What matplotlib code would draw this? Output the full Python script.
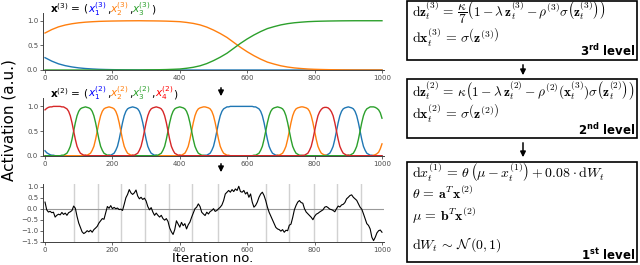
import numpy as np
import matplotlib.pyplot as plt
from matplotlib.patches import Rectangle, FancyArrowPatch

# ---- data ----
iters_top = np.arange(0, 1001, 20)   # level 3 sampled every 20 iterations
iters = np.arange(0, 1001, 5)        # level 2 / level 1 sampled every 5 iterations

x3_1 = [0.25, 0.18, 0.125, 0.088, 0.062, 0.043, 0.03, 0.021, 0.014, 0.01,
        0.007, 0.005, 0.003, 0.002, 0.001, 0, 0, 0, 0, 0,
        0, 0, 0, 0, 0, 0, 0, 0, 0, 0,
        0, 0, 0, 0, 0, 0, 0, 0, 0, 0,
        0, 0, 0, 0, 0, 0, 0, 0, 0, 0, 0]
x3_2 = [0.75, 0.82, 0.875, 0.912, 0.938, 0.957, 0.97, 0.979, 0.986, 0.99,
        0.993, 0.995, 0.997, 0.998, 0.999, 0.997, 0.996, 0.994, 0.991, 0.986,
        0.98, 0.965, 0.945, 0.915, 0.87, 0.81, 0.74, 0.66, 0.56, 0.46,
        0.37, 0.29, 0.22, 0.16, 0.12, 0.085, 0.06, 0.042, 0.03, 0.02,
        0.014, 0.01, 0.007, 0.005, 0.003, 0.002, 0.001, 0.001, 0.001, 0.001, 0.001]
x3_3 = [0, 0, 0, 0, 0, 0, 0, 0, 0, 0,
        0, 0, 0, 0, 0, 0.003, 0.004, 0.006, 0.009, 0.014,
        0.02, 0.035, 0.055, 0.085, 0.13, 0.19, 0.26, 0.34, 0.44, 0.54,
        0.63, 0.71, 0.78, 0.84, 0.88, 0.915, 0.94, 0.958, 0.97, 0.98,
        0.986, 0.99, 0.993, 0.995, 0.997, 0.998, 0.999, 0.999, 0.999, 0.999, 0.999]

x2_1 = [0.10, 0.06, 0.04, 0.02, 0.01, 0.01, 0, 0, 0, 0, 0, 0, 0, 0, 0, 0, 0, 0, 0, 0,
        0, 0, 0, 0, 0, 0, 0, 0, 0, 0, 0, 0, 0, 0, 0, 0, 0, 0, 0.01, 0.01,
        0.03, 0.05, 0.11, 0.19, 0.33, 0.50, 0.67, 0.81, 0.90, 0.95, 0.97, 0.98, 0.99, 0.98, 0.97, 0.95, 0.90, 0.81, 0.67, 0.50,
        0.33, 0.19, 0.11, 0.05, 0.03, 0.01, 0.01, 0, 0, 0, 0, 0, 0, 0, 0, 0, 0, 0, 0, 0,
        0, 0, 0, 0, 0, 0, 0, 0, 0, 0, 0, 0, 0, 0, 0, 0.01, 0.01, 0.03, 0.05, 0.11,
        0.19, 0.33, 0.50, 0.67, 0.81, 0.90, 0.95, 0.97, 0.99, 0.99, 1.0, 1.0, 1.0, 1.0, 1.0, 1.0, 1.0, 1.0, 1.0, 1.0,
        1.0, 1.0, 1.0, 1.0, 0.99, 0.99, 0.97, 0.95, 0.90, 0.81, 0.67, 0.50, 0.33, 0.19, 0.11, 0.05, 0.03, 0.01, 0.01, 0,
        0, 0, 0, 0, 0, 0, 0, 0, 0, 0, 0, 0, 0, 0, 0, 0, 0, 0, 0, 0,
        0, 0, 0, 0, 0, 0, 0.01, 0.01, 0.03, 0.05, 0.11, 0.19, 0.33, 0.50, 0.67, 0.81, 0.90, 0.95, 0.97, 0.98,
        0.99, 0.98, 0.97, 0.95, 0.90, 0.81, 0.67, 0.50, 0.33, 0.19, 0.11, 0.05, 0.03, 0.01, 0.01, 0, 0, 0, 0, 0,
        0]
x2_2 = [0, 0, 0, 0, 0, 0, 0, 0, 0, 0, 0, 0, 0, 0, 0, 0, 0, 0, 0, 0,
        0, 0, 0, 0, 0.01, 0.01, 0.03, 0.05, 0.11, 0.19, 0.33, 0.50, 0.67, 0.81, 0.90, 0.95, 0.97, 0.98, 0.99, 0.98,
        0.97, 0.95, 0.90, 0.81, 0.67, 0.50, 0.33, 0.19, 0.11, 0.05, 0.03, 0.01, 0.01, 0, 0, 0, 0, 0, 0, 0,
        0, 0, 0, 0, 0, 0, 0, 0, 0, 0, 0, 0, 0, 0, 0, 0, 0, 0, 0, 0,
        0.01, 0.01, 0.03, 0.05, 0.11, 0.19, 0.33, 0.50, 0.67, 0.81, 0.90, 0.95, 0.97, 0.98, 0.99, 0.99, 0.98, 0.97, 0.95, 0.90,
        0.81, 0.67, 0.50, 0.33, 0.19, 0.11, 0.05, 0.03, 0.01, 0.01, 0, 0, 0, 0, 0, 0, 0, 0, 0, 0,
        0, 0, 0, 0, 0, 0, 0, 0, 0, 0, 0, 0, 0, 0, 0, 0, 0, 0, 0.01, 0.01,
        0.03, 0.05, 0.11, 0.19, 0.33, 0.50, 0.67, 0.81, 0.90, 0.95, 0.97, 0.98, 0.99, 0.99, 0.98, 0.97, 0.95, 0.90, 0.81, 0.67,
        0.50, 0.33, 0.19, 0.11, 0.05, 0.03, 0.01, 0.01, 0, 0, 0, 0, 0, 0, 0, 0, 0, 0, 0, 0,
        0, 0, 0, 0, 0, 0, 0, 0, 0, 0, 0, 0, 0, 0, 0, 0.01, 0.02, 0.04, 0.07, 0.14,
        0.24]
x2_3 = [0, 0, 0, 0, 0, 0, 0, 0, 0, 0, 0.01, 0.01, 0.03, 0.05, 0.11, 0.19, 0.33, 0.50, 0.67, 0.81,
        0.90, 0.95, 0.97, 0.98, 0.99, 0.98, 0.97, 0.95, 0.90, 0.81, 0.67, 0.50, 0.33, 0.19, 0.11, 0.05, 0.03, 0.01, 0.01, 0,
        0, 0, 0, 0, 0, 0, 0, 0, 0, 0, 0, 0, 0, 0, 0, 0, 0, 0, 0, 0,
        0, 0, 0, 0, 0, 0, 0.01, 0.01, 0.03, 0.05, 0.11, 0.19, 0.33, 0.50, 0.67, 0.81, 0.90, 0.95, 0.97, 0.98,
        0.99, 0.98, 0.97, 0.95, 0.90, 0.81, 0.67, 0.50, 0.33, 0.19, 0.11, 0.05, 0.03, 0.01, 0.01, 0, 0, 0, 0, 0,
        0, 0, 0, 0, 0, 0, 0, 0, 0, 0, 0, 0, 0, 0, 0, 0, 0, 0, 0, 0,
        0, 0, 0, 0, 0.01, 0.01, 0.03, 0.05, 0.11, 0.19, 0.33, 0.50, 0.67, 0.81, 0.90, 0.95, 0.97, 0.98, 0.99, 0.98,
        0.97, 0.95, 0.90, 0.81, 0.67, 0.50, 0.33, 0.19, 0.11, 0.05, 0.03, 0.01, 0.01, 0, 0, 0, 0, 0, 0, 0,
        0, 0, 0, 0, 0, 0, 0, 0, 0, 0, 0, 0, 0, 0, 0, 0, 0, 0, 0, 0,
        0.01, 0.01, 0.03, 0.05, 0.11, 0.19, 0.33, 0.50, 0.67, 0.81, 0.90, 0.95, 0.97, 0.99, 0.99, 0.99, 0.98, 0.96, 0.93, 0.87,
        0.76]
x2_4 = [0.93, 0.96, 0.98, 0.99, 0.99, 1.0, 1.0, 1.0, 1.0, 1.0, 0.99, 0.99, 0.97, 0.95, 0.90, 0.81, 0.67, 0.50, 0.33, 0.19,
        0.11, 0.05, 0.03, 0.01, 0.01, 0, 0, 0, 0, 0, 0, 0, 0, 0, 0, 0, 0, 0, 0, 0,
        0, 0, 0, 0, 0, 0, 0, 0, 0, 0, 0, 0, 0.01, 0.01, 0.03, 0.05, 0.11, 0.19, 0.33, 0.50,
        0.67, 0.81, 0.90, 0.95, 0.97, 0.98, 0.99, 0.98, 0.97, 0.95, 0.90, 0.81, 0.67, 0.50, 0.33, 0.19, 0.11, 0.05, 0.03, 0.01,
        0.01, 0, 0, 0, 0, 0, 0, 0, 0, 0, 0, 0, 0, 0, 0, 0, 0, 0, 0, 0,
        0, 0, 0, 0, 0, 0, 0, 0, 0, 0, 0, 0, 0, 0, 0, 0, 0, 0, 0, 0,
        0, 0, 0, 0, 0, 0, 0, 0, 0, 0, 0, 0, 0, 0, 0, 0, 0, 0, 0, 0,
        0, 0, 0, 0, 0, 0, 0, 0, 0, 0, 0, 0, 0, 0.01, 0.01, 0.03, 0.05, 0.11, 0.19, 0.33,
        0.50, 0.67, 0.81, 0.89, 0.94, 0.97, 0.98, 0.98, 0.97, 0.94, 0.89, 0.81, 0.67, 0.50, 0.33, 0.19, 0.11, 0.05, 0.03, 0.01,
        0.01, 0, 0, 0, 0, 0, 0, 0, 0, 0, 0, 0, 0, 0, 0, 0, 0, 0, 0, 0,
        0]

x1 = [0.30, -0.05, -0.15, -0.12, -0.18, -0.16, -0.38, -0.30, -0.25, -0.28, -0.17, -0.26, -0.20, -0.30, -0.18, -0.14, -0.08, 0.12, 0.02, -0.35,
      -0.65, -0.85, -1.05, -1.13, -1.08, -1.00, -1.05, -0.98, -1.07, -0.95, -0.88, -0.80, -0.65, -0.55, -0.45, -0.48, -0.18, 0.10, 0.02, 0.14,
      0.00, 0.06, 0.00, 0.03, -0.04, -0.02, -0.08, 0.20, 0.50, 0.65, 0.87, 0.72, 0.65, 0.72, 0.85, 0.58, 0.45, 0.52, 0.42, 0.48,
      0.35, 0.10, -0.05, 0.05, -0.15, -0.30, -0.20, -0.30, -0.38, -0.30, -0.45, -0.52, -0.45, -0.58, -0.88, -1.05, -1.17, -0.95, -0.55, -0.70,
      -0.84, -0.62, -0.77, -0.68, -0.92, -0.73, -0.61, -0.39, -0.20, 0.00, 0.07, 0.22, 0.10, -0.16, -0.24, -0.31, -0.16, -0.24, -0.13, -0.08,
      0.00, -0.12, -0.08, 0.00, 0.07, 0.17, 0.37, 0.67, 0.75, 0.83, 0.75, 0.87, 0.78, 0.90, 0.83, 1.02, 0.78, 0.75, 0.83, 0.67,
      0.75, 0.52, 0.67, 0.30, 0.07, 0.15, 0.30, 0.52, 0.67, 0.75, 0.60, 0.37, 0.07, -0.16, -0.33, -0.50, -0.68, -0.85, -0.92, -0.95,
      -1.02, -0.95, -1.07, -0.98, -1.00, -0.75, -0.70, -0.40, -0.05, 0.15, 0.30, 0.37, 0.28, 0.25, 0.00, -0.15, -0.23, -0.31, -0.39, -0.50,
      -0.35, -0.25, -0.21, -0.15, -0.10, -0.05, 0.07, 0.10, 0.05, -0.02, -0.04, -0.08, -0.14, 0.00, 0.12, 0.08, 0.17, 0.20, 0.28, 0.45,
      0.52, 0.60, 0.63, 0.52, 0.45, 0.38, 0.22, 0.07, -0.02, -0.23, -0.46, -0.68, -0.76, -0.92, -1.30, -1.45, -1.30, -1.10, -1.00, -0.97,
      -1.07]

# iterations where the level-2 winner changes (grey lines in the bottom panel)
switches = [86, 156, 226, 297, 367, 437, 512, 656, 724, 798, 866, 937]

line_colors = ['#1f77b4', '#ff7f0e', '#2ca02c', '#d62728']
title_colors = ['#0000ff', '#ff7f0e', '#2ca02c', '#ff0000']

W, H = 640, 265


def fx(x):
    return x / W


def fy(y):
    return 1 - y / H


def style_axis(ax):
    for side in ['top', 'right']:
        ax.spines[side].set_visible(False)
    for side in ['left', 'bottom']:
        ax.spines[side].set_linewidth(0.7)
        ax.spines[side].set_color('0.25')
    ax.tick_params(length=2, width=0.6, labelsize=5, colors='0.3', pad=1.5)
    ax.set_xlim(-6, 1006)
    ax.set_xticks([0, 200, 400, 600, 800, 1000])


def colored_title(fig, x, y, pieces, size):
    renderer = fig.canvas.get_renderer()
    for s, c in pieces:
        t = fig.text(x, y, s, color=c, fontsize=size, va='baseline', ha='left')
        x += t.get_window_extent(renderer).width / fig.bbox.width


fig = plt.figure(figsize=(6.4, 2.65), dpi=100)

ax_w = 341 / W
ax3 = fig.add_axes([fx(43), fy(70), ax_w, 57.3 / H])
ax2 = fig.add_axes([fx(43), fy(155.7), ax_w, 57.4 / H])
ax1 = fig.add_axes([fx(43), fy(241.7), ax_w, 57.4 / H])

# level 3
for vals, c in zip([x3_1, x3_2, x3_3], line_colors):
    ax3.plot(iters_top, vals, color=c, lw=1.0)
ax3.set_ylim(0, 1.162)
ax3.set_yticks([0, 0.5, 1.0])
style_axis(ax3)

# level 2
for vals, c in zip([x2_1, x2_2, x2_3, x2_4], line_colors):
    ax2.plot(iters, vals, color=c, lw=1.0)
ax2.set_ylim(0, 1.164)
ax2.set_yticks([0, 0.5, 1.0])
style_axis(ax2)

# level 1
for s in switches:
    ax1.axvline(s, color='0.82', lw=1.0, zorder=1)
ax1.axhline(0, color='0.6', lw=0.8, zorder=1)
ax1.plot(iters, x1, color='black', lw=0.8, zorder=3)
ax1.set_ylim(-1.5, 1.11)
ax1.set_yticks([-1.5, -1.0, -0.5, 0.0, 0.5, 1.0])
style_axis(ax1)

# panel titles with coloured components
colored_title(fig, fx(50), fy(12.5),
              [(r'$\mathbf{x}^{(3)}$ = (', 'black'),
               (r'$x_1^{(3)}$', title_colors[0]), (',', 'black'),
               (r'$x_2^{(3)}$', title_colors[1]), (',', 'black'),
               (r'$x_3^{(3)}$', title_colors[2]), (')', 'black')], 7.6)
colored_title(fig, fx(50), fy(97.5),
              [(r'$\mathbf{x}^{(2)}$ = (', 'black'),
               (r'$x_1^{(2)}$', title_colors[0]), (',', 'black'),
               (r'$x_2^{(2)}$', title_colors[1]), (',', 'black'),
               (r'$x_3^{(2)}$', title_colors[2]), (',', 'black'),
               (r'$x_4^{(2)}$', title_colors[3]), (')', 'black')], 7.6)

fig.text(fx(9), fy(120), 'Activation (a.u.)', rotation=90, ha='center', va='center', fontsize=11)
fig.text(fx(213), fy(262), 'Iteration no.', ha='center', va='baseline', fontsize=9.5)


def down_arrow(x, y0, y1):
    fig.add_artist(FancyArrowPatch((fx(x), fy(y0)), (fx(x), fy(y1)), transform=fig.transFigure,
                                   arrowstyle='-|>', mutation_scale=8, lw=1.1, color='black'))


down_arrow(221, 85, 99)
down_arrow(221, 161, 175)
down_arrow(523, 62, 78)
down_arrow(523, 140, 160)

# equation boxes
boxes = [(1.5, 60), (79, 138), (162, 261.5)]
for top, bot in boxes:
    fig.add_artist(Rectangle((fx(407), fy(bot)), (637 - 407) / W, (bot - top) / H,
                             transform=fig.transFigure, fill=False, lw=1.2, ec='black'))

eq_lines = [
    (17, 9.6, r'$\mathrm{d}\mathbf{z}_t^{(3)} \,=\, \dfrac{\kappa}{7}\left(\mathbf{1} - \lambda\,\mathbf{z}_t^{(3)} - \rho^{(3)}\sigma\left(\mathbf{z}_t^{(3)}\right)\right)$'),
    (43.5, 10, r'$\mathrm{d}\mathbf{x}_t^{(3)} \,=\, \sigma\left(\mathbf{z}^{(3)}\right)$'),
    (97, 9.6, r'$\mathrm{d}\mathbf{z}_t^{(2)} \,=\, \kappa\left(\mathbf{1} - \lambda\,\mathbf{z}_t^{(2)} - \rho^{(2)}(\mathbf{x}_t^{(3)})\sigma\left(\mathbf{z}_t^{(2)}\right)\right)$'),
    (119, 10, r'$\mathrm{d}\mathbf{x}_t^{(2)} \,=\, \sigma\left(\mathbf{z}^{(2)}\right)$'),
    (178, 10, r'$\mathrm{d}x_t^{(1)} \,=\, \theta\,\left(\mu - x_t^{(1)}\right) + 0.08\cdot\mathrm{d}W_t$'),
    (199, 10, r'$\theta \,=\, \mathbf{a}^T\mathbf{x}^{(2)}$'),
    (221, 10, r'$\mu \,=\, \mathbf{b}^T\mathbf{x}^{(2)}$'),
    (249, 10, r'$\mathrm{d}W_t \,\sim\, \mathcal{N}\,(0,1)$'),
]
for y, size, eq in eq_lines:
    fig.text(fx(412), fy(y), eq, fontsize=size, math_fontfamily='cm', va='baseline', ha='left')

levels = [(56, r'3$^{\mathbf{rd}}$ level'), (135, r'2$^{\mathbf{nd}}$ level'), (259.5, r'1$^{\mathbf{st}}$ level')]
for y, lab in levels:
    fig.text(fx(635), fy(y), lab, fontsize=8.5, fontweight='bold', ha='right', va='baseline')

fig.savefig('out.png', dpi=100)
